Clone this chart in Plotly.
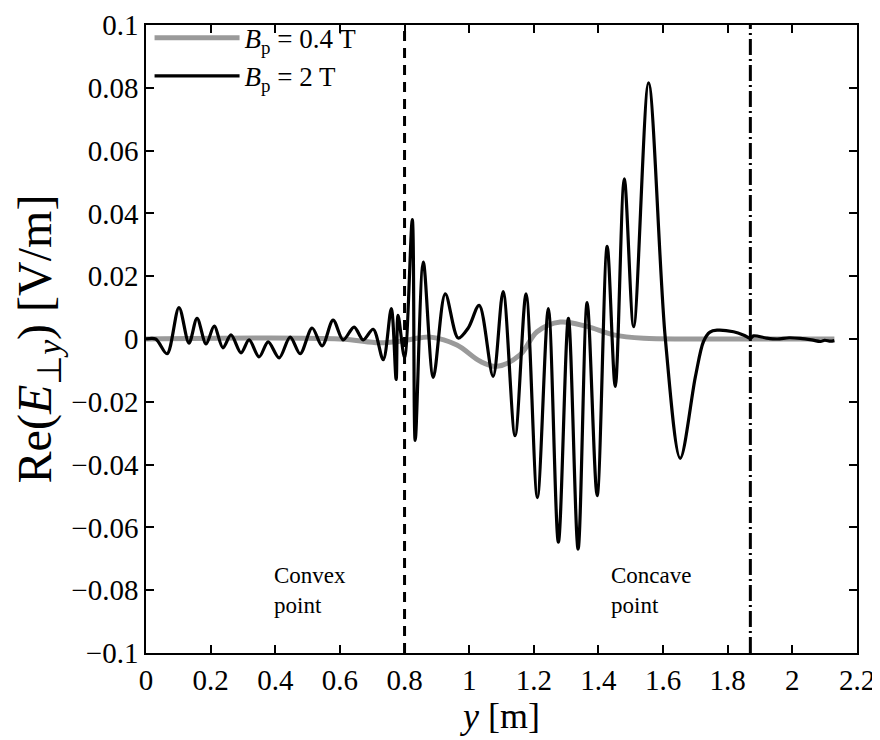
import plotly.graph_objects as go

# ---- data ----
y_black = [0.0, 0.03, 0.065, 0.102, 0.133, 0.158, 0.186, 0.211, 0.238, 0.263, 0.294, 0.319,
           0.350, 0.378, 0.412, 0.446, 0.477, 0.514, 0.545, 0.579, 0.610, 0.644, 0.672, 0.703,
           0.734, 0.759, 0.774, 0.780, 0.800, 0.824, 0.833, 0.858, 0.889, 0.926, 0.966, 0.997,
           1.031, 1.074, 1.105, 1.142, 1.176, 1.211, 1.245, 1.276, 1.307, 1.337, 1.365, 1.396,
           1.427, 1.452, 1.480, 1.509, 1.555, 1.607, 1.653, 1.700, 1.725, 1.745, 1.767, 1.818,
           1.850, 1.870, 1.880, 1.920, 1.953, 1.990, 2.025, 2.060, 2.087, 2.100, 2.118, 2.130]
e_black = [0.0, 0.0, -0.0047, 0.0100, -0.0013, 0.0066, -0.0016, 0.0041, -0.0028, 0.0013, -0.0044, -0.0003,
           -0.0057, -0.0009, -0.0060, 0.0006, -0.0047, 0.0035, -0.0022, 0.0060, -0.0003, 0.0038, -0.0003, 0.0031,
           -0.0066, 0.0097, -0.0129, 0.0075, -0.0060, 0.0380, -0.0323, 0.0245, -0.0122, 0.0144, 0.0003, 0.0035,
           0.0107, -0.0119, 0.0151, -0.0308, 0.0144, -0.0505, 0.0097, -0.0647, 0.0066, -0.0669, 0.0116, -0.0499,
           0.0295, -0.0151, 0.0510, 0.0039, 0.0816, 0.0000, -0.0380, -0.0120, -0.0008, 0.0022, 0.0028, 0.0023,
           0.0012, 0.0002, 0.0010, 0.0003, 0.0000, 0.0004, 0.0002, -0.0003, -0.0008, -0.0004, -0.0007, -0.0005]

y_grey = [0.0, 0.60, 0.72, 0.78, 0.85, 0.88, 0.962, 1.034, 1.086, 1.158, 1.21, 1.282, 1.364,
          1.447, 1.54, 1.70, 2.13]
e_grey = [0.0, 0.0, -0.0012, -0.0008, 0.0004, 0.0006, -0.0019, -0.0071, -0.0087, -0.0050, 0.0023,
          0.0054, 0.0040, 0.0013, 0.0002, 0.0, 0.0]

convex_y = 0.80
concave_y = 1.87

x_ticks = [0, 0.2, 0.4, 0.6, 0.8, 1.0, 1.2, 1.4, 1.6, 1.8, 2.0, 2.2]
x_tick_labels = ["0", "0.2", "0.4", "0.6", "0.8", "1", "1.2", "1.4", "1.6", "1.8", "2", "2.2"]
y_ticks = [-0.1, -0.08, -0.06, -0.04, -0.02, 0, 0.02, 0.04, 0.06, 0.08, 0.1]
y_tick_labels = ["\u22120.1", "\u22120.08", "\u22120.06", "\u22120.04", "\u22120.02", "0",
                 "0.02", "0.04", "0.06", "0.08", "0.1"]

FONT = "Liberation Serif, Times New Roman, serif"

fig = go.Figure()
fig.add_trace(go.Scatter(
    x=y_grey, y=e_grey, mode="lines",
    line=dict(color="#9a9a9a", width=5, shape="spline", smoothing=1.0),
    name="<i>B</i><sub>p</sub> = 0.4 T"))
fig.add_trace(go.Scatter(
    x=y_black, y=e_black, mode="lines",
    line=dict(color="black", width=3.2, shape="spline", smoothing=0.9),
    name="<i>B</i><sub>p</sub> = 2 T"))

fig.add_vline(x=convex_y, line=dict(color="black", width=3, dash="10px,7px"))
fig.add_vline(x=concave_y, line=dict(color="black", width=3, dash="16px,4px,2px,4px"))

fig.add_annotation(x=0.507, y=-0.080, xref="x", yref="y", text="Convex<br>point",
                   showarrow=False, align="left", font=dict(family=FONT, size=23, color="black"))
fig.add_annotation(x=1.563, y=-0.080, xref="x", yref="y", text="Concave<br>point",
                   showarrow=False, align="left", font=dict(family=FONT, size=23, color="black"))

axis_common = dict(showline=True, linecolor="black", linewidth=1.5, mirror="ticks",
                   ticks="inside", ticklen=8, tickwidth=1.5, tickcolor="black",
                   showgrid=False, zeroline=False, automargin=False,
                   ticklabeloverflow="allow",
                   tickfont=dict(family=FONT, size=29, color="black"))

fig.update_xaxes(range=[0, 2.2], tickvals=x_ticks, ticktext=x_tick_labels,
                 title=dict(text="<i>y</i> [m]", font=dict(family=FONT, size=36, color="black"),
                            standoff=2),
                 **axis_common)
fig.update_yaxes(range=[-0.1, 0.1], tickvals=y_ticks, ticktext=y_tick_labels,
                 title=dict(text="Re(<i>E</i><sub>\u22a5<i>y</i></sub>) [V/m]",
                            font=dict(family=FONT, size=48, color="black"), standoff=12),
                 **axis_common)

# the page adds an 8px body margin, so the figure is sized to fit the 880x740 window
fig.update_layout(
    width=872, height=732,
    margin=dict(l=138, r=23, t=17, b=87, autoexpand=False),
    paper_bgcolor="white", plot_bgcolor="white",
    showlegend=True,
    legend=dict(x=0.005, y=1.018, xanchor="left", yanchor="top",
                bgcolor="rgba(255,255,255,0)", borderwidth=0, itemwidth=85,
                tracegroupgap=0,
                font=dict(family=FONT, size=27, color="black")),
)

fig.write_html("out.html")
